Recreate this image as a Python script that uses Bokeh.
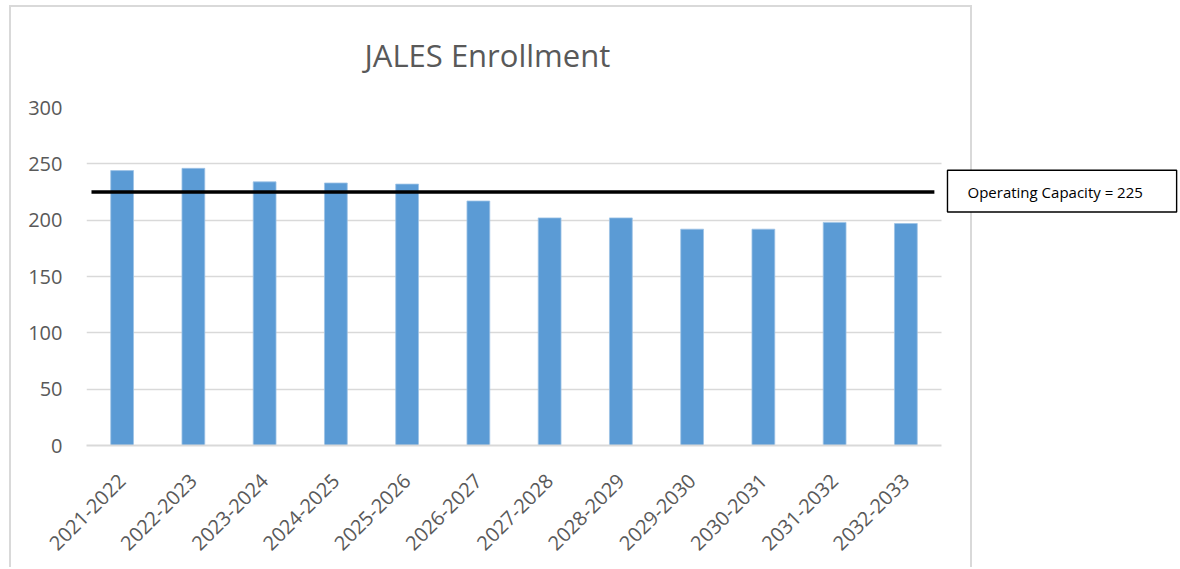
import numpy as np
from bokeh.plotting import figure
from bokeh.models import (Range1d, FixedTicker, BoxAnnotation, Label, ColumnDataSource,
                          InlineStyleSheet)
from bokeh.embed import file_html
from bokeh.resources import INLINE

# ---- data ----
years = ["2021-2022", "2022-2023", "2023-2024", "2024-2025", "2025-2026", "2026-2027",
         "2027-2028", "2028-2029", "2029-2030", "2030-2031", "2031-2032", "2032-2033"]
enrollment = [244, 246, 234, 233, 232, 217, 202, 202, 192, 192, 198, 197]
capacity = 225
capacity_label = "Operating Capacity = 225"
y_ticks = [0, 50, 100, 150, 200, 250, 300]
title_text = "JALES Enrollment"

FONT = "Open Sans"
GRAY = "#595959"
GRID = "#D9D9D9"

# category slot positions (slot centres at i + 0.5)
n = len(years)
xpos = [i + 0.5 for i in range(n)]

W, H = 1178, 567
FL, FR, FT, FB = 86, 941, 106, 445.5   # chart (bar) area edges in px
x_end = n * (W - FL) / (FR - FL)         # frame runs to canvas right edge
p = figure(width=W, height=H, output_backend="svg", toolbar_location=None,
           x_range=Range1d(0, x_end), y_range=Range1d(0, 300),
           min_border_left=FL, min_border_right=0, min_border_top=FT,
           min_border_bottom=int(round(H - FB)), title=title_text)

p.outline_line_color = None
p.background_fill_color = None
p.border_fill_color = None

# light grey chart-area frame (drawn behind the transparent canvas)
p.stylesheets = [InlineStyleSheet(css="""
:host { position: relative; z-index: 0; overflow: hidden; background: transparent; }
:host::before { content: ""; position: absolute; left: 9px; top: 5px; width: 963px;
  height: 600px; box-sizing: border-box; border: 2px solid #D9D9D9; z-index: -1;
  pointer-events: none; }
""")]

p.title.text_font = FONT
p.title.text_font_size = "31px"
p.title.text_font_style = "normal"
p.title.text_color = GRAY
p.title.align = "left"
p.title.offset = 278
p.title.standoff = 63

src = ColumnDataSource(dict(x=xpos, top=enrollment, year=years))
p.vbar(x="x", top="top", width=0.32, source=src, fill_color="#5B9BD5",
       line_color="#9DC3E6", line_width=0.8)

# capacity line
p.segment(x0=[0.07], x1=[11.9], y0=[capacity], y1=[capacity],
          line_color="black", line_width=3.5)

# axes
p.xgrid.grid_line_color = None
p.ygrid.grid_line_color = GRID
p.ygrid.grid_line_width = 1.6
p.ygrid.cross_bounds = (0, n)
p.yaxis.ticker = FixedTicker(ticks=y_ticks)
p.yaxis.axis_line_color = None
p.yaxis.major_tick_line_color = None
p.yaxis.minor_tick_line_color = None
p.yaxis.major_label_standoff = 18
p.yaxis.major_label_text_font = FONT
p.yaxis.major_label_text_font_size = "20px"
p.yaxis.major_label_text_color = GRAY

p.xaxis.ticker = FixedTicker(ticks=xpos)
p.xaxis.bounds = (0, n)
p.xaxis.major_label_overrides = {x: y for x, y in zip(xpos, years)}
p.xaxis.axis_line_color = GRID
p.xaxis.axis_line_width = 2
p.xaxis.major_tick_line_color = None
p.xaxis.minor_tick_line_color = None
p.xaxis.major_label_orientation = np.pi / 4
p.xaxis.major_label_standoff = 26
p.xaxis.major_label_text_font = FONT
p.xaxis.major_label_text_font_size = "20px"
p.xaxis.major_label_text_color = GRAY

# capacity label box
box = BoxAnnotation(left=12.084, right=15.30, top=244.3, bottom=207.2,
                    fill_color="white", fill_alpha=1.0,
                    line_color="black", line_alpha=1.0, line_width=1.4)
p.add_layout(box)
lab = Label(x=12.365, y=capacity, text=capacity_label,
            text_font=FONT, text_font_size="15px", text_color="black",
            text_baseline="middle", text_align="left")
p.add_layout(lab)

open("out.html", "w").write(file_html(p, INLINE))
